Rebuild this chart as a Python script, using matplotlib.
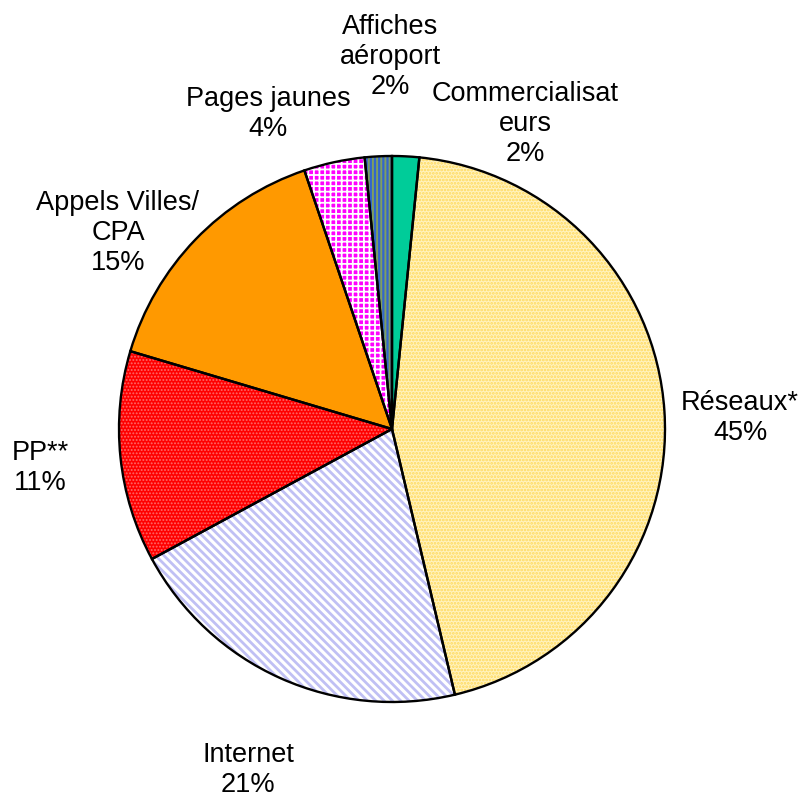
import matplotlib
matplotlib.use("Agg")
import matplotlib.pyplot as plt

plt.rcParams['font.family'] = ['Liberation Sans', 'DejaVu Sans']

categories = ["Commercialisat\neurs", "Réseaux*", "Internet", "PP**",
              "Appels Villes/\nCPA", "Pages jaunes", "Affiches\naéroport"]
shares = [1.6, 44.7, 20.8, 12.5, 15.2, 3.6, 1.6]
pct_labels = ["2%", "45%", "21%", "11%", "15%", "4%", "2%"]

face_colors = ['#00CC99', '#FFF3BF', '#FFFFFF', '#FF0000', '#FF9900', '#FF00FF', '#3366CC']
hatch_colors = ['#00CC99', '#FFD95A', '#C0C0F4', '#FF6A6A', '#FF9900', '#FFFFFF', '#7FA060']
hatches = [None, '.....', '\\\\\\\\', '.....', None, '+++', '||||']
hatch_widths = [1.0, 1.3, 2.0, 0.9, 1.0, 1.3, 1.4]

# positions des étiquettes (pixels, origine en bas à gauche)
label_xy = [(525, 677), (740, 383), (248, 31), (40, 333),
            (118, 568), (268, 687), (390, 744)]

W, H = 811, 801
fig = plt.figure(figsize=(W / 100, H / 100), dpi=100)
ax = fig.add_axes([0, 0, 1, 1])

center = (392, H - 429)
radius = 273

wedges, _ = ax.pie(shares, startangle=90, counterclock=False,
                   center=center, radius=radius, frame=True)
for w, fc, hc, h, hw in zip(wedges, face_colors, hatch_colors, hatches, hatch_widths):
    w.set_facecolor(fc)
    w.set_edgecolor(hc)
    w.set_linewidth(0)
    if h:
        w.set_hatch(h)
        if hasattr(w, 'set_hatch_linewidth'):
            w.set_hatch_linewidth(hw)

# contours noirs
ax.pie(shares, startangle=90, counterclock=False,
       center=center, radius=radius, frame=True,
       wedgeprops=dict(facecolor='none', edgecolor='black', linewidth=1.7))

ax.set_xlim(0, W)
ax.set_ylim(0, H)
ax.set_aspect('equal')
ax.axis('off')

for name, pct, (x, y) in zip(categories, pct_labels, label_xy):
    ax.text(x, y, name + "\n" + pct, ha='center', va='center',
            fontsize=19.5, linespacing=1.2, color='black')

plt.savefig('out.png', dpi=100)
